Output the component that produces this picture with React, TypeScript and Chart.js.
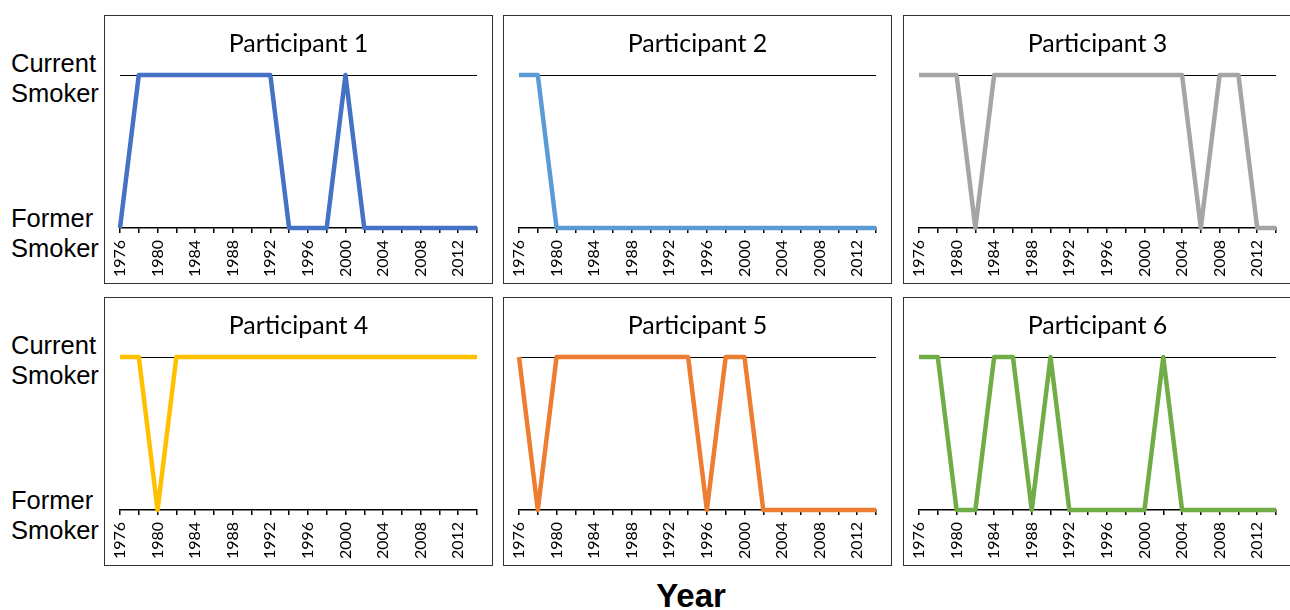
import React, { useEffect, useRef } from 'react';
import { Chart, registerables } from 'chart.js';

Chart.register(...registerables);

// ---- data ----
const years = ['1976', '1978', '1980', '1982', '1984', '1986', '1988', '1990', '1992', '1994',
  '1996', '1998', '2000', '2002', '2004', '2006', '2008', '2010', '2012', '2014'];
// 1 = Current Smoker, 0 = Former Smoker
const participant1 = [0, 1, 1, 1, 1, 1, 1, 1, 1, 0, 0, 0, 1, 0, 0, 0, 0, 0, 0, 0];
const participant2 = [1, 1, 0, 0, 0, 0, 0, 0, 0, 0, 0, 0, 0, 0, 0, 0, 0, 0, 0, 0];
const participant3 = [1, 1, 1, 0, 1, 1, 1, 1, 1, 1, 1, 1, 1, 1, 1, 0, 1, 1, 0, 0];
const participant4 = [1, 1, 0, 1, 1, 1, 1, 1, 1, 1, 1, 1, 1, 1, 1, 1, 1, 1, 1, 1];
const participant5 = [1, 0, 1, 1, 1, 1, 1, 1, 1, 1, 0, 1, 1, 0, 0, 0, 0, 0, 0, 0];
const participant6 = [1, 1, 0, 0, 1, 1, 0, 1, 0, 0, 0, 0, 0, 1, 0, 0, 0, 0, 0, 0];
const panelTitles = ['Participant 1', 'Participant 2', 'Participant 3', 'Participant 4', 'Participant 5', 'Participant 6'];
const panelColors = ['#4472C4', '#5B9BD5', '#A5A5A5', '#FFC000', '#ED7D31', '#70AD47'];
const stateLabels = ['Former Smoker', 'Current Smoker'];
const xAxisTitle = 'Year';

const panelData = [participant1, participant2, participant3, participant4, participant5, participant6];

const PANEL_W = 389;
const PANEL_H = 269;
const colLefts = [104, 503, 903];
const rowTops = [15, 297];

function Panel({ title, values, color, left, top }: { title: string; values: number[]; color: string; left: number; top: number }) {
  const ref = useRef<HTMLCanvasElement | null>(null);
  useEffect(() => {
    let chart: Chart | null = null;
    let cancelled = false;
    const make = () => {
      if (cancelled || !ref.current) return;
      chart = new Chart(ref.current, {
        type: 'line',
        data: {
          labels: years,
          datasets: [{
            data: values,
            borderColor: color,
            borderWidth: 4.5,
            borderJoinStyle: 'round',
            borderCapStyle: 'butt',
            pointRadius: 0,
            tension: 0,
            fill: false,
            clip: false as any,
          }],
        },
        options: {
          animation: false,
          responsive: false,
          events: [],
          layout: { padding: { left: 15, right: 15, top: 0, bottom: 0 } },
          plugins: {
            legend: { display: false },
            tooltip: { enabled: false },
            title: {
              display: true,
              text: title,
              color: '#000',
              font: { family: 'Lato', size: 25, weight: 'normal', lineHeight: 1 },
              padding: { top: 15, bottom: 19 },
            },
          },
          scales: {
            x: {
              type: 'category',
              offset: false,
              grid: { display: true, drawOnChartArea: false, drawTicks: true, tickLength: 5, color: '#000', lineWidth: 1.5 },
              border: { display: true, color: '#000', width: 1.5 },
              ticks: {
                autoSkip: false,
                minRotation: 90,
                maxRotation: 90,
                padding: 7,
                color: '#000',
                font: { family: 'Lato', size: 16 },
                callback: (_v: any, i: number) => (i % 2 === 0 ? years[i] : ''),
              },
              afterFit: (s: any) => {
                s.height = 55;
                s.paddingLeft = 0;
                s.paddingRight = 0;
              },
            },
            y: {
              min: 0,
              max: 1,
              ticks: { display: false, stepSize: 1 },
              grid: {
                drawTicks: false,
                color: (ctx: any) => (ctx.tick && ctx.tick.value === 1 ? '#000' : 'rgba(0,0,0,0)'),
                lineWidth: 1,
              },
              border: { display: false },
              afterFit: (s: any) => { s.width = 0; },
            },
          },
        },
      });
    };
    if ((document as any).fonts && (document as any).fonts.load) {
      Promise.all([
        (document as any).fonts.load('25px Lato'),
        (document as any).fonts.load('16px Lato'),
      ]).then(make, make);
    } else {
      make();
    }
    return () => {
      cancelled = true;
      if (chart) chart.destroy();
    };
  }, [title, values, color]);

  return (
    <div style={{
      position: 'absolute', left, top, width: PANEL_W, height: PANEL_H,
      boxSizing: 'border-box', border: '1px solid #333', background: '#fff',
    }}>
      <canvas ref={ref} width={PANEL_W - 2} height={PANEL_H - 2} style={{ display: 'block' }} />
    </div>
  );
}

const sideLabelStyle: React.CSSProperties = {
  position: 'absolute', left: 11, fontFamily: '"Liberation Sans", Arial, sans-serif',
  fontSize: 25.5, lineHeight: '30px', color: '#000', whiteSpace: 'pre',
};

export default function App() {
  return (
    <div style={{ position: 'absolute', left: 0, top: 0, width: 1290, height: 610, background: '#fff', overflow: 'hidden' }}>
      {panelData.map((vals, i) => (
        <Panel
          key={i}
          title={panelTitles[i]}
          values={vals}
          color={panelColors[i]}
          left={colLefts[i % 3]}
          top={rowTops[Math.floor(i / 3)]}
        />
      ))}
      {rowTops.map((rt, r) => (
        <React.Fragment key={r}>
          <div style={{ ...sideLabelStyle, top: rt + 33 }}>{stateLabels[1].replace(' ', '\n')}</div>
          <div style={{ ...sideLabelStyle, top: rt + 188 }}>{stateLabels[0].replace(' ', '\n')}</div>
        </React.Fragment>
      ))}
      <div style={{
        position: 'absolute', left: 591, width: 200, top: 576, textAlign: 'center',
        fontFamily: '"Liberation Sans", Arial, sans-serif', fontWeight: 'bold', fontSize: 33, lineHeight: '40px', color: '#000',
      }}>{xAxisTitle}</div>
    </div>
  );
}
